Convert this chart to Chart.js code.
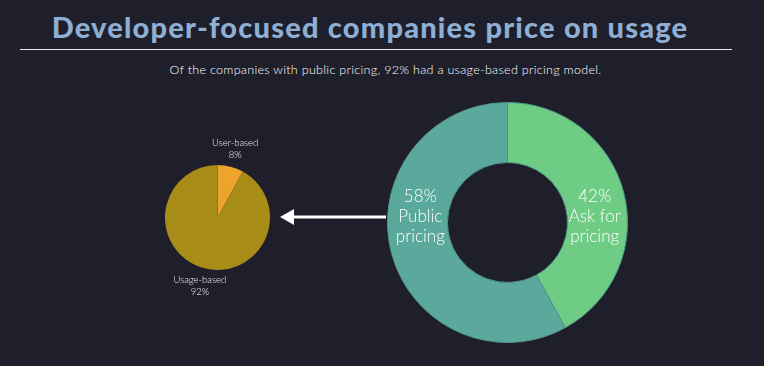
<!DOCTYPE html>
<html>
<head>
<meta charset="utf-8">
<script src="https://cdn.jsdelivr.net/npm/chart.js@4.4.0/dist/chart.umd.min.js"></script>
<style>
  html, body { margin: 0; padding: 0; background: #1f1f2c; }
  body { width: 764px; height: 366px; position: relative; overflow: hidden; font-family: Lato, sans-serif; }
  #title { position: absolute; left: 0; width: 740px; top: 9px; text-align: center; color: #8eaed4; font-weight: 900; font-size: 29px; letter-spacing: 1.2px; }
  #rule { position: absolute; left: 20px; width: 712px; top: 49px; height: 1px; background: #e8e8e8; }
  #sub { position: absolute; left: 0; width: 771px; top: 62px; text-align: center; color: #ffffff; font-size: 12.5px; font-weight: 300; letter-spacing: 0.3px; }
  .box { position: absolute; }
</style>
</head>
<body>
<div id="title">Developer-focused companies price on usage</div>
<div id="rule"></div>
<div id="sub">Of the companies with public pricing, 92% had a usage-based pricing model.</div>

<div class="box" style="left:140px;top:130px;width:155px;height:175px"><canvas id="pie"></canvas></div>
<div class="box" style="left:387px;top:102px;width:241px;height:241px"><canvas id="donut"></canvas></div>

<svg class="box" style="left:276px;top:205px" width="112" height="24">
  <line x1="16" y1="12" x2="110" y2="12" stroke="#ffffff" stroke-width="3"/>
  <polygon points="4,12 18,4 18,20" fill="#ffffff"/>
</svg>

<script>
// pricing split for all companies
const donutLabels = [['Ask for', 'pricing'], ['Public', 'pricing']];
const donutValues = [42, 58];
const donutColors = ['#6ecc84', '#5ba99d'];

// companies with public pricing
const pieLabels = ['User-based', 'Usage-based'];
const pieValues = [8, 92];
const pieColors = ['#eea42a', '#a88c18'];

Chart.defaults.font.family = 'Lato, sans-serif';
Chart.defaults.animation = false;

// white labels inside the ring, one each side
const ringLabels = {
  id: 'ringLabels',
  afterDatasetsDraw(chart) {
    const ctx = chart.ctx;
    const meta = chart.getDatasetMeta(0);
    ctx.save();
    ctx.fillStyle = '#ffffff';
    ctx.font = '300 17px Lato, sans-serif';
    ctx.textAlign = 'center';
    ctx.textBaseline = 'middle';
    meta.data.forEach((arc, i) => {
      const p = arc.getProps(['x', 'y', 'startAngle', 'endAngle', 'innerRadius', 'outerRadius']);
      const mid = (p.startAngle + p.endAngle) / 2;
      const r = (p.innerRadius + p.outerRadius) / 2;
      const x = p.x + Math.cos(mid) * r;
      const y = p.y - 6;
      const lines = [donutValues[i] + '%'].concat(donutLabels[i]);
      lines.forEach((t, k) => ctx.fillText(t, x, y + (k - 1) * 20));
    });
    ctx.restore();
  }
};

// small labels outside the pie
const outsideLabels = {
  id: 'outsideLabels',
  afterDatasetsDraw(chart) {
    const ctx = chart.ctx;
    const meta = chart.getDatasetMeta(0);
    ctx.save();
    ctx.fillStyle = '#f0f0f0';
    ctx.font = '300 9.5px Lato, sans-serif';
    ctx.textAlign = 'center';
    ctx.textBaseline = 'middle';
    meta.data.forEach((arc, i) => {
      const p = arc.getProps(['x', 'y', 'startAngle', 'endAngle', 'outerRadius']);
      const mid = (p.startAngle + p.endAngle) / 2;
      const r = p.outerRadius + 18.5;
      const x = p.x + Math.cos(mid) * r;
      const y = p.y + Math.sin(mid) * r;
      ctx.fillText(pieLabels[i], x, y - 6);
      ctx.fillText(pieValues[i] + '%', x, y + 6);
    });
    ctx.restore();
  }
};

new Chart(document.getElementById('donut'), {
  type: 'doughnut',
  data: {
    labels: donutLabels.map(l => l.join(' ')),
    datasets: [{
      data: donutValues,
      backgroundColor: donutColors,
      borderColor: '#4f9788',
      borderWidth: 1
    }]
  },
  options: {
    responsive: true,
    maintainAspectRatio: false,
    cutout: '50%',
    plugins: { legend: { display: false }, tooltip: { enabled: false } }
  },
  plugins: [ringLabels]
});

new Chart(document.getElementById('pie'), {
  type: 'pie',
  data: {
    labels: pieLabels,
    datasets: [{
      data: pieValues,
      backgroundColor: pieColors,
      borderWidth: 0
    }]
  },
  options: {
    responsive: true,
    maintainAspectRatio: false,
    layout: { padding: { left: 25, right: 25, top: 35, bottom: 35 } },
    plugins: { legend: { display: false }, tooltip: { enabled: false } }
  },
  plugins: [outsideLabels]
});
</script>
</body>
</html>
